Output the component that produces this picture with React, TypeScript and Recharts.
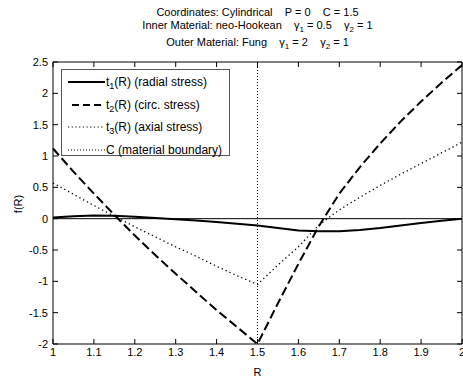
import { Legend, Line, LineChart, ReferenceArea, ReferenceLine, XAxis, YAxis } from 'recharts';

const radius = [1, 1.05, 1.1, 1.15, 1.2, 1.25, 1.3, 1.35, 1.4, 1.45, 1.5, 1.55, 1.6, 1.65, 1.7, 1.75, 1.8, 1.85, 1.9, 1.95, 2];
const radialStress = [0.02, 0.04, 0.05, 0.045, 0.03, 0.01, -0.01, -0.03, -0.055, -0.08, -0.11, -0.15, -0.19, -0.2, -0.2, -0.18, -0.15, -0.11, -0.07, -0.035, 0];
const circStress = [1.12, 0.75, 0.4, 0.06, -0.27, -0.58, -0.88, -1.17, -1.46, -1.73, -2.0, -1.35, -0.72, -0.12, 0.4, 0.82, 1.2, 1.55, 1.87, 2.17, 2.45];
const axialStress = [0.57, 0.39, 0.21, 0.04, -0.13, -0.29, -0.45, -0.6, -0.76, -0.91, -1.05, -0.74, -0.45, -0.1, 0.14, 0.34, 0.53, 0.71, 0.88, 1.05, 1.22];
const boundary = 1.5;

const xTicks = [1, 1.1, 1.2, 1.3, 1.4, 1.5, 1.6, 1.7, 1.8, 1.9, 2];
const yTicks = [-2, -1.5, -1, -0.5, 0, 0.5, 1, 1.5, 2, 2.5];

const data = radius.map((r, i) => ({
  r,
  t1: radialStress[i],
  t2: circStress[i],
  t3: axialStress[i],
}));

const W = 463;
const H = 379;
const MARGIN = { top: 62, right: 1, left: 0, bottom: 0 };
const Y_AXIS_W = 53;
const X_AXIS_H = 35;
const PLOT_W = W - MARGIN.left - MARGIN.right - Y_AXIS_W;
const PLOT_H = H - MARGIN.top - MARGIN.bottom - X_AXIS_H;
const TICK_LEN = 5;
const X_TICK_GAP = 4;
const Y_TICK_GAP = 5;
const FONT = '"Liberation Sans", Arial, Helvetica, sans-serif';

// ticks point inward and are mirrored on the opposite side of the box
function BottomTick(props: any) {
  const { x, y, payload } = props;
  const axisY = y - X_TICK_GAP;
  return (
    <g>
      <line x1={x} x2={x} y1={axisY} y2={axisY - TICK_LEN} stroke="#000" />
      <line x1={x} x2={x} y1={axisY - PLOT_H} y2={axisY - PLOT_H + TICK_LEN} stroke="#000" />
      <text x={x} y={y} dy="0.75em" textAnchor="middle" fontSize={11} fontFamily={FONT} fill="#000">
        {payload.value}
      </text>
    </g>
  );
}

function LeftTick(props: any) {
  const { x, y, payload } = props;
  const axisX = x + Y_TICK_GAP;
  return (
    <g>
      <line x1={axisX} x2={axisX + TICK_LEN} y1={y} y2={y} stroke="#000" />
      <line x1={axisX + PLOT_W} x2={axisX + PLOT_W - TICK_LEN} y1={y} y2={y} stroke="#000" />
      <text x={x} y={y} dy="0.35em" textAnchor="end" fontSize={11} fontFamily={FONT} fill="#000">
        {payload.value}
      </text>
    </g>
  );
}

const sub = { fontSize: 8, position: 'relative' as const, top: 3 };
const legendSub = { fontSize: 9, position: 'relative' as const, top: 3 };

const legendRows = [
  { key: 't1', label: <>t<span style={legendSub}>1</span>(R) (radial stress)</>, width: 2, dash: undefined },
  { key: 't2', label: <>t<span style={legendSub}>2</span>(R) (circ. stress)</>, width: 2, dash: '7 4' },
  { key: 't3', label: <>t<span style={legendSub}>3</span>(R) (axial stress)</>, width: 1.2, dash: '1.2 2.5' },
  { key: 'c', label: <>C (material boundary)</>, width: 1, dash: '1 2' },
];

function LegendBox() {
  return (
    <div
      style={{
        width: 167,
        height: 84,
        border: '1px solid #555',
        background: '#fff',
        fontFamily: FONT,
        fontSize: 12,
        color: '#000',
        paddingTop: 1,
        boxSizing: 'content-box',
      }}
    >
      {legendRows.map((row) => (
        <div key={row.key} style={{ height: 22.5, display: 'flex', alignItems: 'center', whiteSpace: 'nowrap' }}>
          <svg width={44} height={10} style={{ display: 'block', flex: 'none' }}>
            <line
              x1={row.dash === '7 4' ? 10 : 6}
              x2={43}
              y1={5}
              y2={5}
              stroke="#000"
              strokeWidth={row.width}
              strokeDasharray={row.dash}
            />
          </svg>
          <span>{row.label}</span>
        </div>
      ))}
    </div>
  );
}

const titleLine = {
  position: 'absolute' as const,
  left: MARGIN.left + Y_AXIS_W,
  width: PLOT_W,
  textAlign: 'center' as const,
  fontSize: 11,
  lineHeight: '13px',
  whiteSpace: 'pre' as const,
};

export default function App() {
  return (
    <div style={{ position: 'absolute', left: 0, top: 0, width: W, height: H, background: '#fff', fontFamily: FONT, color: '#000' }}>
      <LineChart width={W} height={H} data={data} margin={MARGIN}>
        <XAxis
          dataKey="r"
          type="number"
          domain={[1, 2]}
          ticks={xTicks}
          interval={0}
          height={X_AXIS_H}
          axisLine={false}
          tickLine={false}
          tickSize={0}
          tickMargin={X_TICK_GAP}
          tick={<BottomTick />}
          label={{ value: 'R', position: 'insideBottom', offset: 3, fontSize: 11, fontFamily: FONT, fill: '#000' }}
        />
        <YAxis
          type="number"
          domain={[-2, 2.5]}
          ticks={yTicks}
          interval={0}
          width={Y_AXIS_W}
          axisLine={false}
          tickLine={false}
          tickSize={0}
          tickMargin={Y_TICK_GAP}
          tick={<LeftTick />}
          allowDataOverflow
        />
        <ReferenceArea x1={1} x2={2} y1={-2} y2={2.5} fill="none" stroke="#000" strokeWidth={1} />
        <ReferenceLine y={0} stroke="#000" strokeWidth={1} />
        <ReferenceLine x={boundary} stroke="#000" strokeWidth={1} strokeDasharray="1 2" />
        <Line dataKey="t1" type="linear" stroke="#000" strokeWidth={2} dot={false} activeDot={false} isAnimationActive={false} />
        <Line dataKey="t2" type="linear" stroke="#000" strokeWidth={2} strokeDasharray="9 4" dot={false} activeDot={false} isAnimationActive={false} />
        <Line dataKey="t3" type="linear" stroke="#000" strokeWidth={1.3} strokeDasharray="1.3 3" dot={false} activeDot={false} isAnimationActive={false} />
        <Legend
          layout="horizontal"
          verticalAlign="middle"
          align="center"
          content={<LegendBox />}
          wrapperStyle={{ left: 61, top: 69, width: 169, height: 86 }}
        />
      </LineChart>

      <div style={{ ...titleLine, top: 6 }}>{'Coordinates: Cylindrical    P = 0    C = 1.5'}</div>
      <div style={{ ...titleLine, top: 19 }}>
        {'Inner Material: neo-Hookean    γ'}<span style={sub}>1</span>{' = 0.5    γ'}<span style={sub}>2</span>{' = 1'}
      </div>
      <div style={{ ...titleLine, top: 36 }}>
        {'Outer Material: Fung    γ'}<span style={sub}>1</span>{' = 2    γ'}<span style={sub}>2</span>{' = 1'}
      </div>
      <div
        style={{
          position: 'absolute',
          left: 18,
          top: 204,
          transform: 'translate(-50%, -50%) rotate(-90deg)',
          fontSize: 11,
          whiteSpace: 'nowrap',
        }}
      >
        f(R)
      </div>
    </div>
  );
}
